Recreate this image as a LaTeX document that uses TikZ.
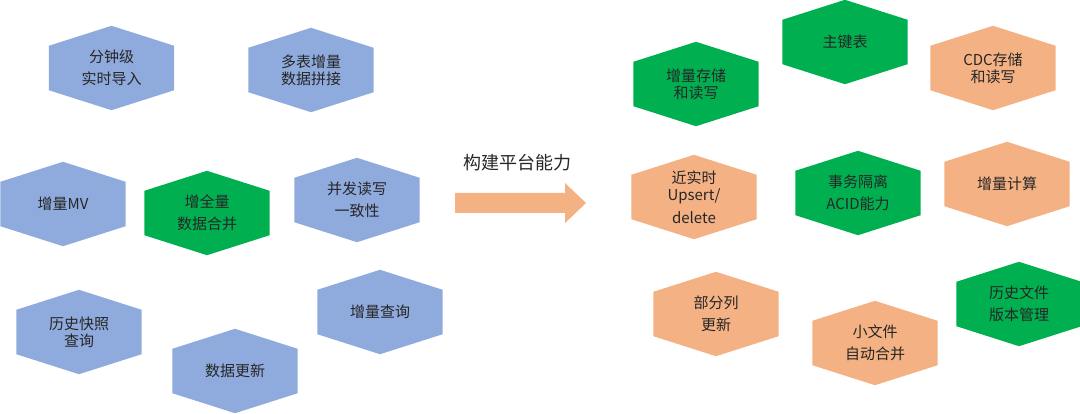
\documentclass[tikz,border=0pt]{standalone}
\usepackage{fontspec}
\setmainfont{Noto Sans CJK SC}
\usetikzlibrary{calc, backgrounds}
\definecolor{hexblue}{RGB}{143,170,220}
\definecolor{hexgreen}{RGB}{0,176,80}
\definecolor{hexorange}{RGB}{244,177,131}
\tikzset{
  hexbox/.style={minimum width=125pt, minimum height=84pt, inner sep=0pt, align=center,
    font=\fontsize{15pt}{17pt}\selectfont, text=black!85},
  bigtext/.style={font=\fontsize{18pt}{20pt}\selectfont, text=black!85},
}
% hexagon behind a named node
\newcommand{\hexfill}[2]{%
  \fill[#2] (#1.north) -- ($(#1.north east)+(0,-20pt)$) -- ($(#1.south east)+(0,20pt)$)
    -- (#1.south) -- ($(#1.south west)+(0,20pt)$) -- ($(#1.north west)+(0,-20pt)$) -- cycle;}

\begin{document}
\begin{tikzpicture}[x=1pt, y=-1pt]
  \useasboundingbox (0,0) rectangle (1080,414);
  % Left group
  \node[hexbox] (mins)      at (111.5,68) {分钟级\\[5.5pt]实时导入};
  \node[hexbox] (multijoin) at (311,70)   {多表增量\\数据拼接};
  \node[hexbox] (mv)        at (63,204)   {增量MV};
  \node[hexbox] (merge)     at (207,213)  {增全量\\[5pt]数据合并};
  \node[hexbox] (consist)   at (357,200)  {并发读写\\[5.5pt]一致性};
  \node[hexbox] (snapshot)  at (79,332)   {历史快照\\查询};
  \node[hexbox] (incquery)  at (380,312)  {增量查询};
  \node[hexbox] (update)    at (235,371)  {数据更新};
  % Arrow
  \node[bigtext] (build) at (517,163) {构建平台能力};
  \fill[hexorange] (455,193) -- (565,193) -- (565,183) -- (586,203) -- (565,223) -- (565,213) -- (455,213) -- cycle;
  % Right group
  \node[hexbox] (incstore) at (696,84)   {增量存储\\和读写};
  \node[hexbox] (pktable)  at (845,42)   {主键表};
  \node[hexbox] (cdc)      at (993,68)   {CDC存储\\和读写};
  \node[hexbox] (upsert)   at (694,197)  {近实时\\Upsert/\\[6pt]delete};
  \node[hexbox] (acid)     at (858,193)  {事务隔离\\[5pt]ACID能力};
  \node[hexbox] (inccalc)  at (1007,184) {增量计算};
  \node[hexbox] (partcol)  at (716,314)  {部分列\\[5pt]更新};
  \node[hexbox] (compact)  at (875,343)  {小文件\\[5.5pt]自动合并};
  \node[hexbox] (history)  at (1019,304) {历史文件\\[5pt]版本管理};
  \begin{scope}[on background layer]
    \fill[white] (0,0) rectangle (1080,414);
    \foreach \n/\c in {mins/hexblue, multijoin/hexblue, mv/hexblue, merge/hexgreen,
        consist/hexblue, snapshot/hexblue, incquery/hexblue, update/hexblue,
        incstore/hexgreen, pktable/hexgreen, cdc/hexorange, upsert/hexorange,
        acid/hexgreen, inccalc/hexorange, partcol/hexorange, compact/hexorange,
        history/hexgreen}
      {\hexfill{\n}{\c}}
  \end{scope}
\end{tikzpicture}
\end{document}
